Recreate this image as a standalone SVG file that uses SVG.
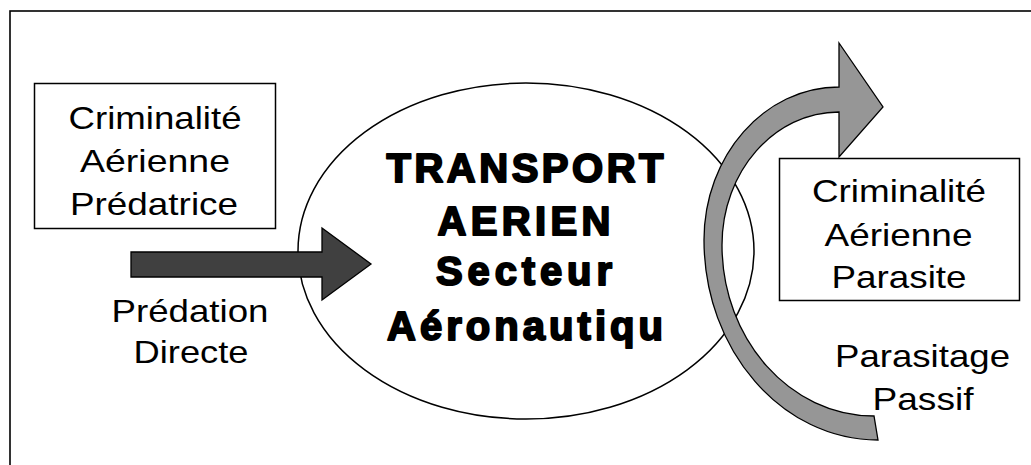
<svg xmlns="http://www.w3.org/2000/svg" width="1031" height="465" viewBox="0 0 1031 465">
  <style>
    .label { font-family: "Liberation Sans", Arial, sans-serif; font-size: 32px; fill: #000; text-anchor: middle; }
    .title { font-family: "Liberation Sans", Arial, sans-serif; font-size: 40px; font-weight: bold; fill: #000; stroke: #000; stroke-width: 2; stroke-linejoin: round; text-anchor: middle; }
    .box { fill: #fff; stroke: #000; stroke-width: 1.5; }
  </style>

  <!-- page frame -->
  <rect x="10" y="11" width="1030" height="470" fill="#fff" stroke="#000" stroke-width="1.6"/>

  <!-- central sector ellipse -->
  <g id="transport">
    <ellipse cx="526" cy="251" rx="228" ry="168" class="box"/>
    <text class="title" x="525" y="182" textLength="277" lengthAdjust="spacing">TRANSPORT</text>
    <text class="title" x="524" y="235" textLength="173" lengthAdjust="spacing">AERIEN</text>
    <text class="title" x="524" y="285" textLength="176" lengthAdjust="spacing">Secteur</text>
    <text class="title" x="525" y="340" textLength="276" lengthAdjust="spacing">Aéronautiqu</text>
  </g>

  <!-- predatory crime box -->
  <g id="predatrice">
    <rect x="34.5" y="83.5" width="241" height="145" class="box"/>
    <text class="label" x="155" y="128.5" textLength="173" lengthAdjust="spacingAndGlyphs">Criminalité</text>
    <text class="label" x="155" y="172" textLength="150" lengthAdjust="spacingAndGlyphs">Aérienne</text>
    <text class="label" x="154" y="214.5" textLength="168" lengthAdjust="spacingAndGlyphs">Prédatrice</text>
  </g>

  <!-- parasitic crime box -->
  <g id="parasite">
    <rect x="779.5" y="158.5" width="240" height="142" class="box"/>
    <text class="label" x="899" y="202" textLength="174" lengthAdjust="spacingAndGlyphs">Criminalité</text>
    <text class="label" x="898.5" y="245.5" textLength="148" lengthAdjust="spacingAndGlyphs">Aérienne</text>
    <text class="label" x="899" y="288" textLength="135" lengthAdjust="spacingAndGlyphs">Parasite</text>
  </g>

  <!-- connectors -->
  <g id="connectors">
    <!-- direct predation: straight block arrow into the sector -->
    <path d="M131,252 L322,252 L322,228 L371,264 L322,300 L322,277 L131,277 Z"
          fill="#404040" stroke="#000" stroke-width="1.3" stroke-linejoin="miter"/>
    <!-- passive parasitism: curved block arrow around the sector -->
    <path d="M839,87 L839,43 L883,107 L839,157 L839,112
             C774.4,112 722,171.5 722,245
             C722,339.4 790,416 874,416
             L878,440
             C781.9,440 704,350.5 704,240
             C704,155.5 764.4,87 839,87 Z"
          fill="#969696" stroke="#000" stroke-width="1.3" stroke-linejoin="miter"/>
  </g>

  <!-- connector labels -->
  <g id="label-predation">
    <text class="label" x="190" y="321.5" textLength="157" lengthAdjust="spacingAndGlyphs">Prédation</text>
    <text class="label" x="191" y="363" textLength="115" lengthAdjust="spacingAndGlyphs">Directe</text>
  </g>
  <g id="label-parasitage">
    <text class="label" x="922.5" y="367" textLength="175" lengthAdjust="spacingAndGlyphs">Parasitage</text>
    <text class="label" x="923" y="410" textLength="101" lengthAdjust="spacingAndGlyphs">Passif</text>
  </g>
</svg>
